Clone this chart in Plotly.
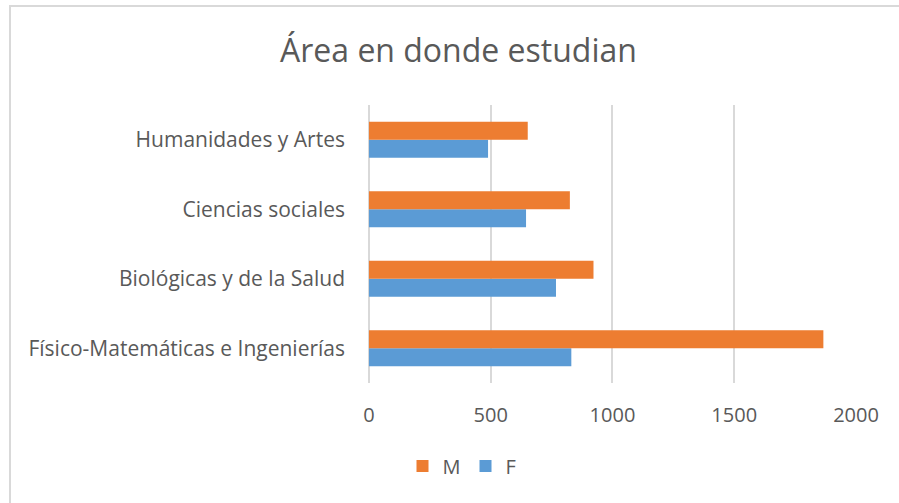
import plotly.graph_objects as go

categories = ["Físico-Matemáticas e Ingenierías", "Biológicas y de la Salud",
              "Ciencias sociales", "Humanidades y Artes"]
m_values = [1866, 922, 825, 652]
f_values = [831, 768, 645, 489]
x_ticks = [0, 500, 1000, 1500, 2000]

W, H = 899, 503
L, R, T, B = 368, 899 - 856, 105, 503 - 383
pw, ph = W - L - R, H - T - B

def px(x):
    return (x - L) / pw

def py(y):
    return (H - B - y) / ph

TXT = "#595959"
FONT = "Open Sans"
FS = 20

fig = go.Figure()
fig.add_trace(go.Bar(y=categories, x=f_values, name="F", orientation="h",
                     marker=dict(color="#5B9BD5", line=dict(width=0))))
fig.add_trace(go.Bar(y=categories, x=m_values, name="M", orientation="h",
                     marker=dict(color="#ED7D31", line=dict(width=0))))

fig.update_layout(
    width=W, height=H,
    margin=dict(l=L, r=R, t=T, b=B, pad=0),
    paper_bgcolor="white", plot_bgcolor="white",
    barmode="group", bargap=0.48, bargroupgap=0,
    font=dict(family=FONT, color=TXT, size=FS),
    showlegend=True,
    legend=dict(orientation="h", x=px(462), xanchor="center", y=py(466), yanchor="middle",
                traceorder="reversed", font=dict(size=FS, color=TXT),
                itemwidth=30, itemsizing="constant"),
    xaxis=dict(range=[-4, 2000], tickvals=x_ticks, showgrid=True, gridcolor="#D9D9D9",
               gridwidth=1.5, zeroline=True, zerolinecolor="#D9D9D9", zerolinewidth=2,
               showline=False, ticks="",
               ticklabelstandoff=18, tickfont=dict(size=FS, color=TXT), fixedrange=True),
    yaxis=dict(showgrid=False, zeroline=False, showline=False, ticks="",
               ticklabelstandoff=22, tickfont=dict(size=21, color=TXT), fixedrange=True),
    annotations=[dict(text="Área en donde estudian", xref="paper", yref="paper",
                      x=px(458), y=py(50), xanchor="center", yanchor="middle",
                      showarrow=False, font=dict(size=32, color=TXT, family=FONT))],
    shapes=[dict(type="rect", xref="paper", yref="paper",
                 x0=px(10), x1=px(905), y0=py(510), y1=py(6),
                 line=dict(color="#D9D9D9", width=2), fillcolor="rgba(0,0,0,0)", layer="below")],
)

fig.write_html("out.html", config={"displayModeBar": False},
               post_script="document.body.style.margin='0';document.body.style.overflow='hidden';")
